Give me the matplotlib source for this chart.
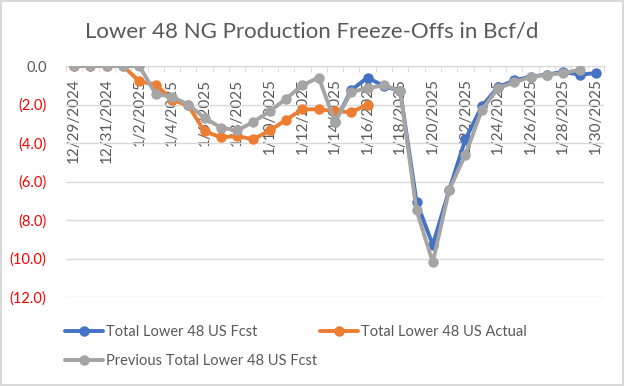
import numpy as np
import pandas as pd
import matplotlib
matplotlib.use("Agg")
import matplotlib.pyplot as plt
from matplotlib.ticker import FuncFormatter

plt.rcParams['font.family'] = ['Lato', 'DejaVu Sans']

dates = pd.date_range('2024-12-29', '2025-01-30', freq='D')
labels = [f"{d.month}/{d.day}/{d.year}" for d in dates]

nan = np.nan
fcst = [nan] * 16 + [-2.9, -1.25, -0.6, -1.05, -1.3, -7.05, -9.3, -6.45, -3.8,
                     -2.1, -1.1, -0.75, -0.55, -0.45, -0.3, -0.45, -0.37]
actual = [0, 0, 0, 0, -0.8, -0.97, -1.75, -2.05, -3.4, -3.7, -3.65, -3.8,
          -3.35, -2.8, -2.25, -2.25, -2.35, -2.4, -2.0] + [nan] * 14
prev = [0, 0, 0, 0, 0, -1.45, -1.6, -2.0, -2.7, -3.2, -3.35, -2.9, -2.35,
        -1.7, -1.0, -0.6, -2.9, -1.35, -1.15, -1.0, -1.3, -7.5, -10.2, -6.45,
        -4.6, -2.3, -1.15, -0.85, -0.57, -0.45, -0.37, -0.2, nan]

series_names = ["Total Lower 48 US Fcst", "Total Lower 48 US Actual",
                "Previous Total Lower 48 US Fcst"]
colors = ["#4472C4", "#ED7D31", "#A5A5A5"]

fig = plt.figure(figsize=(6.24, 3.86), dpi=100)
fig.patch.set_edgecolor('#D9D9D9')
fig.patch.set_linewidth(1.5)
ax = fig.add_axes([66/624, 1 - 297/386, (604 - 66)/624, (297 - 66)/386])

x = np.arange(len(dates))
handles = []
for ys, name, c in zip([fcst, actual, prev], series_names, colors):
    h, = ax.plot(x, np.array(ys, dtype=float), color=c, lw=2.8, marker='o',
                 markersize=6.5, label=name, solid_capstyle='round')
    handles.append(h)

ax.set_xlim(-0.5, len(dates) - 0.5)
ax.set_ylim(-12, 0)
ax.set_yticks(np.arange(-12, 0.1, 2))
ax.grid(axis='y', color='#D9D9D9', lw=1)
ax.set_axisbelow(True)
for s in ['top', 'right', 'left']:
    ax.spines[s].set_visible(False)
ax.spines['bottom'].set_position(('data', 0))
ax.spines['bottom'].set_color('#D9D9D9')
ax.spines['bottom'].set_zorder(0.5)

ax.set_xticks(x[::2])
ax.set_xticklabels(labels[::2], rotation=90, fontsize=11, color='#595959')
ax.set_xticks(np.arange(-0.5, len(dates), 1), minor=True)
ax.tick_params(axis='x', which='major', length=0, pad=9)
ax.tick_params(axis='x', which='minor', length=4, color='#D9D9D9', direction='out')
for t in ax.get_xticklabels():
    t.set_verticalalignment('top')

def yfmt(v, pos):
    if abs(v) < 1e-9:
        return "0.0"
    return f"({abs(v):.1f})"
ax.yaxis.set_major_formatter(FuncFormatter(yfmt))
ax.tick_params(axis='y', length=0, labelsize=10.5, pad=14)
for t, v in zip(ax.get_yticklabels(), ax.get_yticks()):
    t.set_color('#595959' if abs(v) < 1e-9 else '#FF0000')

fig.text(0.5, 1 - 31/386, "Lower 48 NG Production Freeze-Offs in Bcf/d",
         ha='center', va='center', fontsize=16, color='#595959')

order = [0, 2, 1]
leg = fig.legend([handles[i] for i in order], [series_names[i] for i in order],
                 loc='upper left', bbox_to_anchor=(65/624, 1 - 325/386),
                 ncol=2, frameon=False, fontsize=10.5, handlelength=2.6,
                 handletextpad=0.2, columnspacing=0.2, labelspacing=1.05,
                 borderaxespad=0, borderpad=0)
for t in leg.get_texts():
    t.set_color('#595959')

fig.savefig('out.png', dpi=100)
